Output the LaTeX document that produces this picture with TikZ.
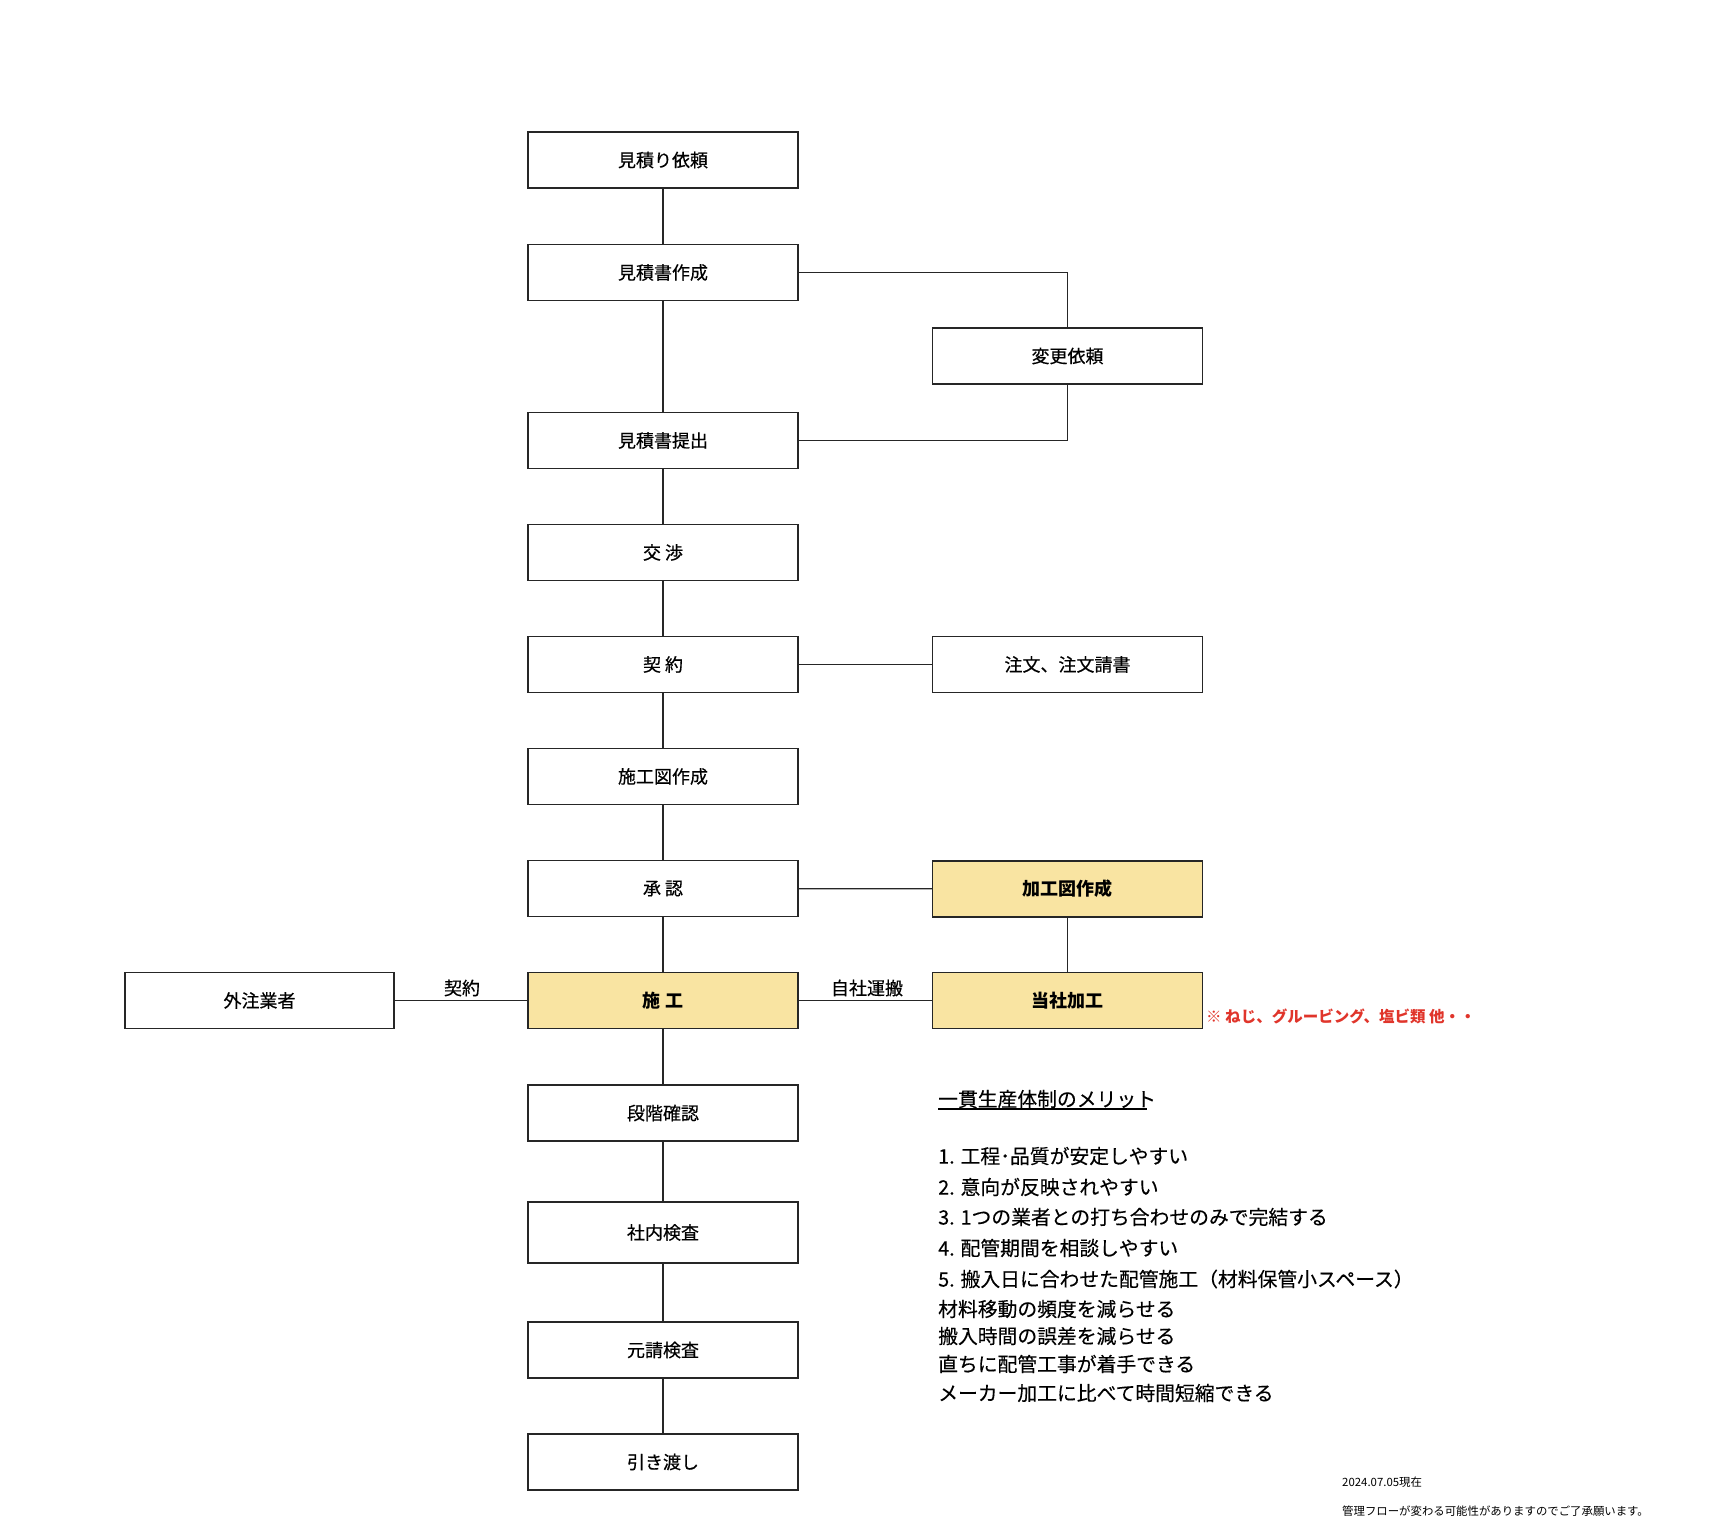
\documentclass[tikz,border=0pt]{standalone}
\usepackage{fontspec}
\setmainfont{Noto Sans CJK JP}
\newfontfamily\medfont[FakeBold=0.45]{Noto Sans CJK JP}
\newfontfamily\listfont[FakeBold=0.25]{Noto Sans CJK JP}
\begin{document}
\begin{tikzpicture}[x=1pt,y=-1pt,
  box/.style={draw=black!85,line width=1.3pt,rectangle,minimum width=270pt,minimum height=56pt,inner sep=0pt,font=\fontsize{18}{22}\medfont},
  hbox/.style={box,fill=boxyellow,font=\fontsize{18}{22}\selectfont\bfseries},
  conn/.style={draw=black!85,line width=1.3pt},
  elabel/.style={font=\fontsize{18}{22}\medfont,inner sep=0pt},
  merit/.style={anchor=west,inner sep=0pt,font=\fontsize{19.8}{24}\listfont}]
\definecolor{boxyellow}{HTML}{F9E4A2}
\definecolor{notered}{HTML}{E0352B}
\useasboundingbox (0,0) rectangle (1729,1536);
% main column
\node[box] (a1) at (663,160) {見積り依頼};
\node[box] (a2) at (663,272.5) {見積書作成};
\node[box] (a3) at (663,440.5) {見積書提出};
\node[box] (a4) at (663,552.5) {交 渉};
\node[box] (a5) at (663,664.5) {契 約};
\node[box] (a6) at (663,776.5) {施工図作成};
\node[box] (a7) at (663,888.5) {承 認};
\node[hbox] (a8) at (663,1000.5) {施 工};
\node[box] (a9) at (663,1113) {段階確認};
\node[box,minimum height=61pt] (a10) at (663,1232.5) {社内検査};
\node[box] (a11) at (663,1350) {元請検査};
\node[box] (a12) at (663,1462) {引き渡し};
% right column
\node[box] (b1) at (1067.5,356) {変更依頼};
\node[box] (b2) at (1067.5,664.5) {注文、注文請書};
\node[hbox] (b3) at (1067.5,889) {加工図作成};
\node[hbox] (b4) at (1067.5,1000.5) {当社加工};
% left
\node[box,minimum width=269pt] (c1) at (259.5,1000.5) {外注業者};
% connectors
\foreach \i/\j in {a1/a2,a2/a3,a3/a4,a4/a5,a5/a6,a6/a7,a7/a8,a8/a9,a9/a10,a10/a11,a11/a12}
  \draw[conn] (\i) -- (\j);
\draw[conn] (a2.east) -| (b1.north);
\draw[conn] (b1.south) |- (a3.east);
\draw[conn] (a5) -- (b2);
\draw[conn] (a7) -- (b3);
\draw[conn] (b3) -- (b4);
\draw[conn] (c1) -- (a8);
\draw[conn] (a8) -- (b4);
\node[elabel] (l1) at (462,988) {契約};
\node[elabel] (l2) at (867,988) {自社運搬};
% note
\node[anchor=west,inner sep=0pt,text=notered,font=\fontsize{15.5}{19}\selectfont\bfseries] (n1) at (1206,1016) {※ ねじ、グルービング、塩ビ類 他・・};
% merits
\node[merit] (m0) at (938,1099) {一貫生産体制のメリット};
\draw[line width=1.2pt] (938,1109) -- (1147,1109);
\node[merit] (m1) at (938,1156) {1. 工程･品質が安定しやすい};
\node[merit] (m2) at (938,1187) {2. 意向が反映されやすい};
\node[merit] (m3) at (938,1217) {3. 1つの業者との打ち合わせのみで完結する};
\node[merit] (m4) at (938,1248) {4. 配管期間を相談しやすい};
\node[merit] (m5) at (938,1279) {5. 搬入日に合わせた配管施工（材料保管小スペース）};
\node[merit] (m6) at (938,1309) {材料移動の頻度を減らせる};
\node[merit] (m7) at (938,1336) {搬入時間の誤差を減らせる};
\node[merit] (m8) at (938,1364) {直ちに配管工事が着手できる};
\node[merit] (m9) at (938,1393) {メーカー加工に比べて時間短縮できる};
% footer
\node[anchor=west,inner sep=0pt,font=\fontsize{11.4}{14}\selectfont] (f1) at (1342,1482) {2024.07.05現在};
\node[anchor=west,inner sep=0pt,font=\fontsize{11.4}{14}\selectfont] (f2) at (1342,1511) {管理フローが変わる可能性がありますのでご了承願います。};
\end{tikzpicture}
\end{document}
